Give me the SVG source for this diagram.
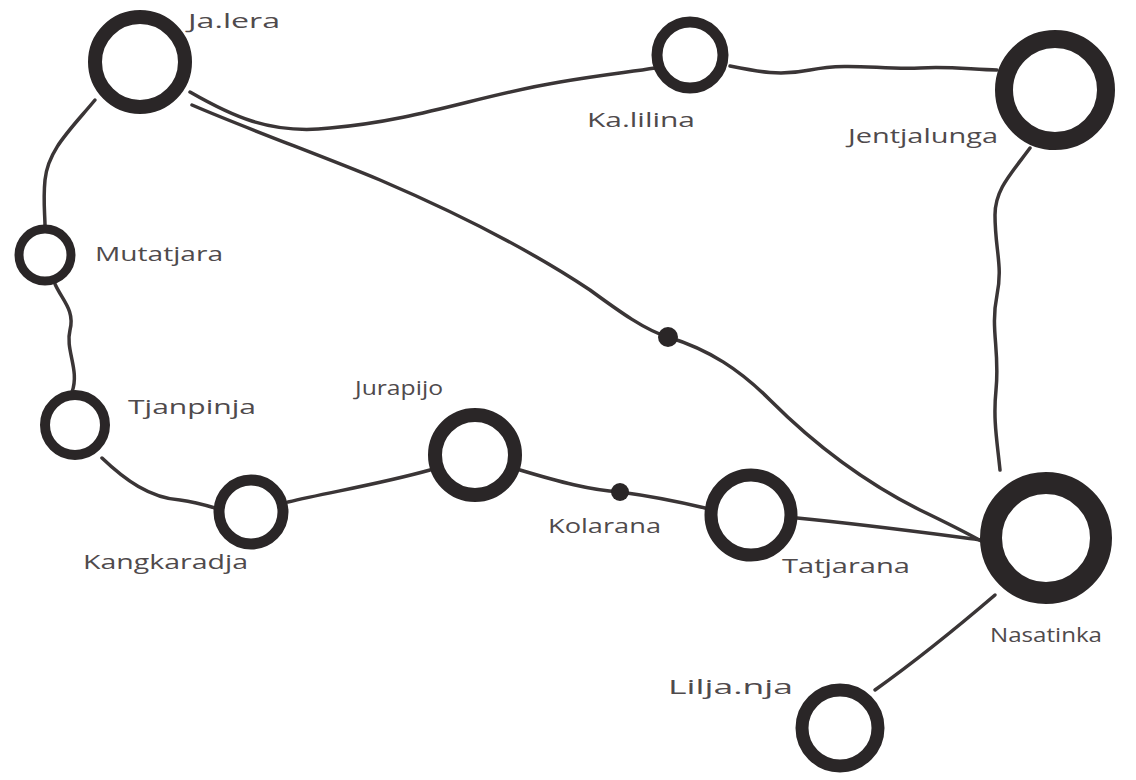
<svg xmlns="http://www.w3.org/2000/svg" width="1136" height="780" viewBox="0 0 1136 780">
<style>
.e{fill:none;stroke:#3a3536;stroke-width:3.5;stroke-linecap:round}
.n{fill:#fff;stroke:#2a2627}
.d{fill:#2a2627}
.t{font-family:"Open Sans","Liberation Sans",sans-serif;font-size:20px;fill:#4f4a4c}
</style>
<rect width="1136" height="780" fill="#fff"/>
<g id="connectors">
<path class="e" d="M190,92 C230,115 270,135 330,128 C420,120 480,95 560,82 C600,75 630,72 655,68"/>
<path class="e" d="M730,66 C760,72 780,76 810,70 C850,62 880,70 920,68 C950,66 975,70 997,70"/>
<path class="e" d="M1030,148 C1010,175 995,190 995,215 C995,250 1003,265 997,295 C990,330 1000,350 996,390 C993,420 997,440 1000,470"/>
<path class="e" d="M95,100 C70,130 48,150 45,180 C43,200 45,215 45,226"/>
<path class="e" d="M55,284 C62,300 75,310 70,330 C65,350 80,370 72,392"/>
<path class="e" d="M102,458 C125,480 150,498 180,500 C195,502 205,505 215,508"/>
<path class="e" d="M288,502 C330,492 380,484 430,470"/>
<path class="e" d="M520,470 C560,482 590,490 620,492 C650,496 680,502 705,508"/>
<path class="e" d="M797,518 C860,524 920,532 982,540"/>
<path class="e" d="M192,105 C250,130 320,155 380,180 C450,210 530,250 590,290 C620,312 645,330 668,337 C710,350 740,370 770,400 C810,440 860,480 920,510 C945,522 965,532 983,542"/>
<path class="e" d="M995,595 C960,625 910,665 875,690"/>
</g>
<g id="n-jalera"><circle class="n" cx="140" cy="62" r="45" stroke-width="14"/><text class="t" x="188" y="28" textLength="92" lengthAdjust="spacingAndGlyphs">Ja.lera</text></g>
<g id="n-kalilina"><circle class="n" cx="690" cy="55" r="33" stroke-width="11"/><text class="t" x="587" y="127" textLength="108" lengthAdjust="spacingAndGlyphs">Ka.lilina</text></g>
<g id="n-jentjalunga"><circle class="n" cx="1055" cy="90" r="51" stroke-width="18"/><text class="t" x="848" y="143" textLength="150" lengthAdjust="spacingAndGlyphs">Jentjalunga</text></g>
<g id="n-mutatjara"><circle class="n" cx="45" cy="255" r="26" stroke-width="9"/><text class="t" x="95" y="261" textLength="128" lengthAdjust="spacingAndGlyphs">Mutatjara</text></g>
<g id="n-tjanpinja"><circle class="n" cx="75" cy="425" r="30" stroke-width="10"/><text class="t" x="128" y="414" textLength="128" lengthAdjust="spacingAndGlyphs">Tjanpinja</text></g>
<g id="n-kangkaradja"><circle class="n" cx="251" cy="512" r="32" stroke-width="11"/><text class="t" x="83" y="569" textLength="165" lengthAdjust="spacingAndGlyphs">Kangkaradja</text></g>
<g id="n-jurapijo"><circle class="n" cx="475" cy="455" r="40" stroke-width="14"/><text class="t" x="355" y="395" textLength="88" lengthAdjust="spacingAndGlyphs">Jurapijo</text></g>
<g id="n-kolarana"><circle class="d" cx="620" cy="492" r="9"/><text class="t" x="548" y="533" textLength="113" lengthAdjust="spacingAndGlyphs">Kolarana</text></g>
<g id="n-dot"><circle class="d" cx="668" cy="337" r="10"/></g>
<g id="n-tatjarana"><circle class="n" cx="751" cy="515" r="40" stroke-width="13"/><text class="t" x="782" y="573" textLength="128" lengthAdjust="spacingAndGlyphs">Tatjarana</text></g>
<g id="n-nasatinka"><circle class="n" cx="1046" cy="538" r="55" stroke-width="22"/><text class="t" x="990" y="642" textLength="112" lengthAdjust="spacingAndGlyphs">Nasatinka</text></g>
<g id="n-liljanja"><circle class="n" cx="840" cy="728" r="38" stroke-width="13"/><text class="t" x="668" y="694" textLength="125" lengthAdjust="spacingAndGlyphs">Lilja.nja</text></g>
</svg>
